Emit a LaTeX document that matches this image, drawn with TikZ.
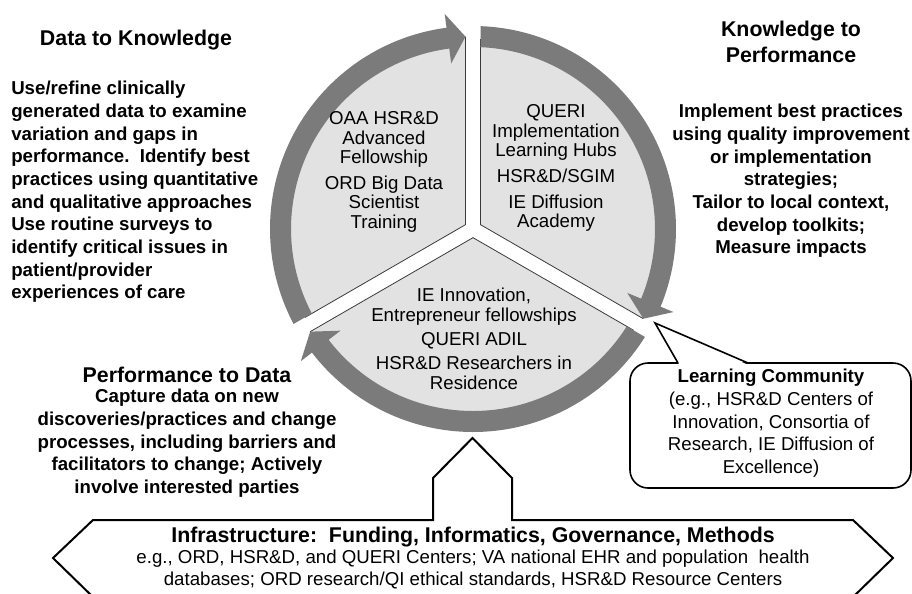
\documentclass[tikz,border=0pt]{standalone}
\usepackage{fontspec}
\setmainfont{Liberation Sans}
\definecolor{bandgray}{HTML}{7B7B7B}
\definecolor{secgray}{HTML}{E2E2E2}
\definecolor{edgegray}{HTML}{3A3A3A}
\begin{document}
\begin{tikzpicture}[x=0.75pt,y=-0.75pt,
  secfill/.style={fill=secgray},
  secedge/.style={draw=edgegray, line width=0.6pt},
  arrowband/.style={fill=bandgray},
  headtxt/.style={font=\fontsize{16}{19.5}\selectfont\bfseries, inner sep=0pt, execute at begin node=\strut},
  bodytxt/.style={font=\fontsize{14}{17}\selectfont\bfseries, inner sep=0pt, execute at begin node=\strut},
  sectxt/.style={font=\fontsize{14}{14.5}\selectfont, inner sep=0pt, align=center, anchor=north, execute at begin node=\strut},
  plaintxt/.style={font=\fontsize{14}{17}\selectfont, inner sep=0pt, align=center, anchor=north, execute at begin node=\strut},
  outline/.style={draw=black, line width=1.5pt, fill=white, line join=miter},
  calloutbox/.style={draw=black, line width=1.2pt, fill=white, rounded corners=13.5pt}
]
\useasboundingbox (0,0) rectangle (912,593);
\clip (0,0) rectangle (912,593);
\fill[white] (0,0) rectangle (912,593);

% ---- cycle of three arrow sectors ----
\begin{scope}[shift={(473,229)}, yscale=-1]
\foreach \a in {90,-30,210}{
  \pgfmathsetmacro{\b}{\a+120}
  \fill[secfill] ({\a+60}:8.66) -- ({\a+2.24}:192.5) arc[start angle={\a+2.24}, end angle={\b-2.24}, radius=192.5] -- cycle;
  \draw[secedge] ({\a+2.23}:192.5) -- ({\a+60}:8.66) -- ({\b-2.24}:190);
  \fill[arrowband] ({\b-2.12}:203) arc[start angle={\b-2.12}, end angle={\a+7.5}, radius=203]
     -- ({\a+7.5}:217) -- ({\a+2.23}:192.5) -- ({\a+7.5}:167) -- ({\a+7.5}:182)
     arc[start angle={\a+7.5}, end angle={\b-2.36}, radius=182] -- cycle;
}
\end{scope}

% ---- sector texts ----
\node[sectxt] (secL) at (384,111.5) {OAA HSR\&D\\Advanced\\Fellowship\\[5pt]ORD Big Data\\Scientist\\Training};
\node[sectxt] (secR) at (556,104.5) {QUERI\\Implementation\\Learning Hubs\\[5pt]HSR\&D/SGIM\\[5pt]IE Diffusion\\Academy};
\node[sectxt, font=\fontsize{14}{15}\selectfont] (secB) at (474,288) {IE Innovation,\\Entrepreneur fellowships\\[3pt]QUERI ADIL\\[3pt]HSR\&D Researchers in\\Residence};

% ---- side texts ----
\node[headtxt, anchor=base] (dkhead) at (136,45) {Data to Knowledge};
\node[bodytxt, align=left, anchor=north west] (dkbody) at (11,81.1) {Use/refine clinically\\generated data to examine\\variation and gaps in\\performance.\ \ Identify best\\practices using quantitative\\and qualitative approaches\\Use routine surveys to\\identify critical issues in\\patient/provider\\experiences of care};

\node[headtxt, align=center, anchor=north] (kphead) at (791,20.8) {Knowledge to\\Performance};
\node[bodytxt, align=center, anchor=north] (kpbody) at (791,104.1) {Implement best practices\\using quality improvement\\or implementation\\strategies;\\Tailor to local context,\\develop toolkits;\\Measure impacts};

\node[headtxt, anchor=base] (pdhead) at (187,382) {Performance to Data};
\node[bodytxt, align=center, anchor=north] (pdbody) at (187,389.1) {Capture data on new\\discoveries/practices and change\\processes, including barriers and\\facilitators to change; Actively\\involve interested parties};

% ---- learning community callout ----
\draw[calloutbox] (630,363) rectangle (911,488);
\fill[white] (679.2,364.3) -- (655,323) -- (746.8,364.3) -- cycle;
\draw[line width=1.2pt, line join=miter] (678,363) -- (655,323) -- (748,363);
\node[plaintxt] (lctxt) at (771,369) {\textbf{Learning Community}\\(e.g., HSR\&D Centers of\\Innovation, Consortia of\\Research, IE Diffusion of\\Excellence)};

% ---- infrastructure base ----
\draw[outline] (93,520) -- (433,520) -- (433,478) -- (472.5,438) -- (512,478) -- (512,520)
  -- (853,520) -- (893,558) -- (853,597) -- (93,597) -- (53,558) -- cycle;
\node[headtxt, anchor=base] (inftitle) at (473,542) {Infrastructure:\ \ Funding, Informatics, Governance, Methods};
\node[plaintxt, font=\fontsize{14}{16.5}\selectfont] (infbody) at (473,549.6) {e.g., ORD, HSR\&D, and QUERI Centers; VA national EHR and population\ \ health\\databases; ORD research/QI ethical standards, HSR\&D Resource Centers};
\end{tikzpicture}
\end{document}
